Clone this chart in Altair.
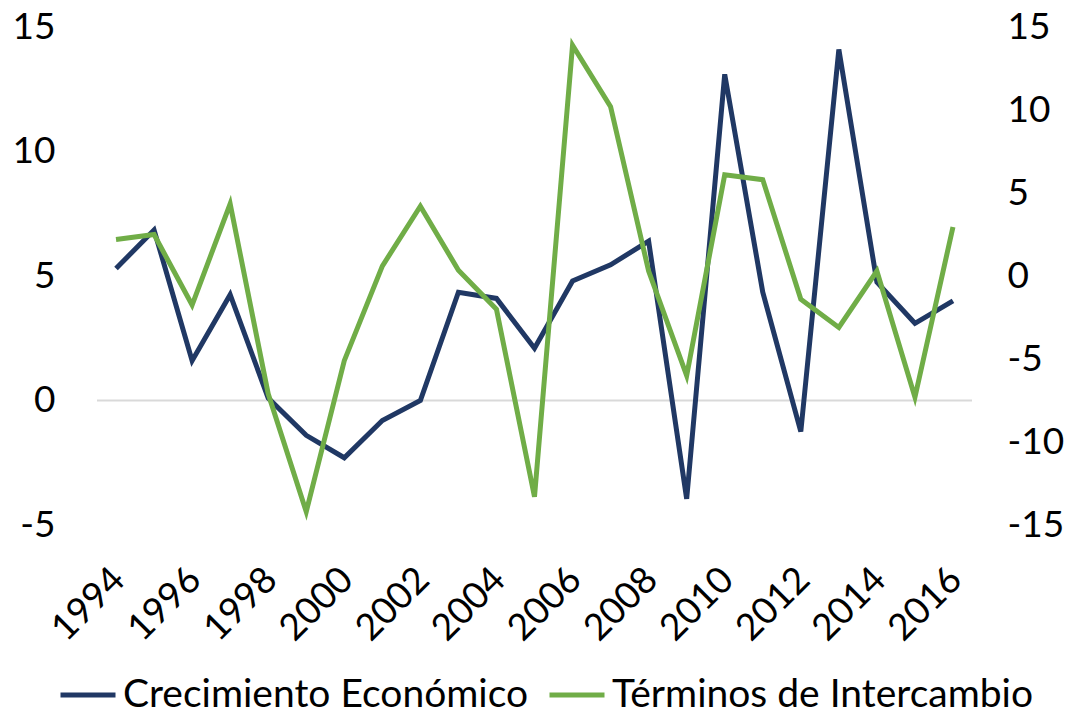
import altair as alt
import pandas as pd

years = list(range(1994, 2017))
crecimiento = [5.3, 6.85, 1.6, 4.25, 0.1, -1.4, -2.3, -0.8, 0.0, 4.35, 4.1, 2.1,
               4.8, 5.45, 6.4, -3.95, 13.1, 4.35, -1.25, 14.1, 4.75, 3.1, 4.0]
terminos = [2.2, 2.5, -1.75, 4.35, -7.1, -14.2, -5.1, 0.6, 4.2, 0.35, -2.0, -13.3,
            13.9, 10.2, 0.3, -6.0, 6.1, 5.8, -1.4, -3.1, 0.3, -7.3, 2.95]
series_names = ["Crecimiento Económico", "Términos de Intercambio"]
series_colors = ["#203864", "#70AD47"]
label_years = list(range(1994, 2017, 2))

df = pd.DataFrame({"year": years, "crec": crecimiento, "term": terminos})

FONT = "Lato"
FS = 37
LFS = 39

x_enc = alt.X(
    "year:O",
    scale=alt.Scale(type="point", padding=0.5),
    axis=alt.Axis(values=label_years, labelAngle=-45, ticks=False, domain=False,
                  grid=False, title=None, labelFontSize=FS, labelFont=FONT,
                  labelColor="#000000", labelPadding=36, labelOffset=-10),
)

color_enc = alt.Color(
    "serie:N",
    scale=alt.Scale(domain=series_names, range=series_colors),
    legend=alt.Legend(title=None, orient="none", legendX=-39, legendY=638,
                      direction="horizontal", symbolType="stroke",
                      symbolStrokeWidth=5, symbolSize=3025, labelOffset=5,
                      columnPadding=10, labelFontSize=LFS, labelFont=FONT,
                      labelColor="#000000", labelLimit=0),
)

base = alt.Chart(df)

rule = base.mark_rule(color="#D9D9D9", strokeWidth=2).encode(
    y=alt.Y("zero:Q", scale=alt.Scale(domain=[-5, 15]), axis=None)
).transform_calculate(zero="0").transform_filter("datum.year == 1994")

line1 = base.transform_calculate(serie='"Crecimiento Económico"').mark_line(
    strokeWidth=5
).encode(
    x=x_enc,
    y=alt.Y("crec:Q", scale=alt.Scale(domain=[-5, 15], nice=False),
            axis=alt.Axis(orient="left", values=[-5, 0, 5, 10, 15], ticks=False,
                          domain=False, grid=False, title=None, labelFontSize=FS,
                          labelFont=FONT, labelColor="#000000", labelPadding=42,
                          labelExpr="'' + datum.value")),
    color=color_enc,
)

line2 = base.transform_calculate(serie='"Términos de Intercambio"').mark_line(
    strokeWidth=5
).encode(
    x=x_enc,
    y=alt.Y("term:Q", scale=alt.Scale(domain=[-15, 15], nice=False),
            axis=alt.Axis(orient="right", values=[-15, -10, -5, 0, 5, 10, 15],
                          ticks=False, domain=False, grid=False, title=None,
                          labelFontSize=FS, labelFont=FONT, labelColor="#000000",
                          labelPadding=35, labelExpr="'' + datum.value")),
    color=color_enc,
)

chart = alt.layer(rule, line1, line2).resolve_scale(y="independent").properties(
    width=875,
    height=498,
    autosize=alt.AutoSizeParams(type="none"),
    padding={"left": 89, "top": 19, "right": 92, "bottom": 186},
).configure_view(stroke=None)

chart.save("out.html", embed_options={"renderer": "svg", "actions": False})
